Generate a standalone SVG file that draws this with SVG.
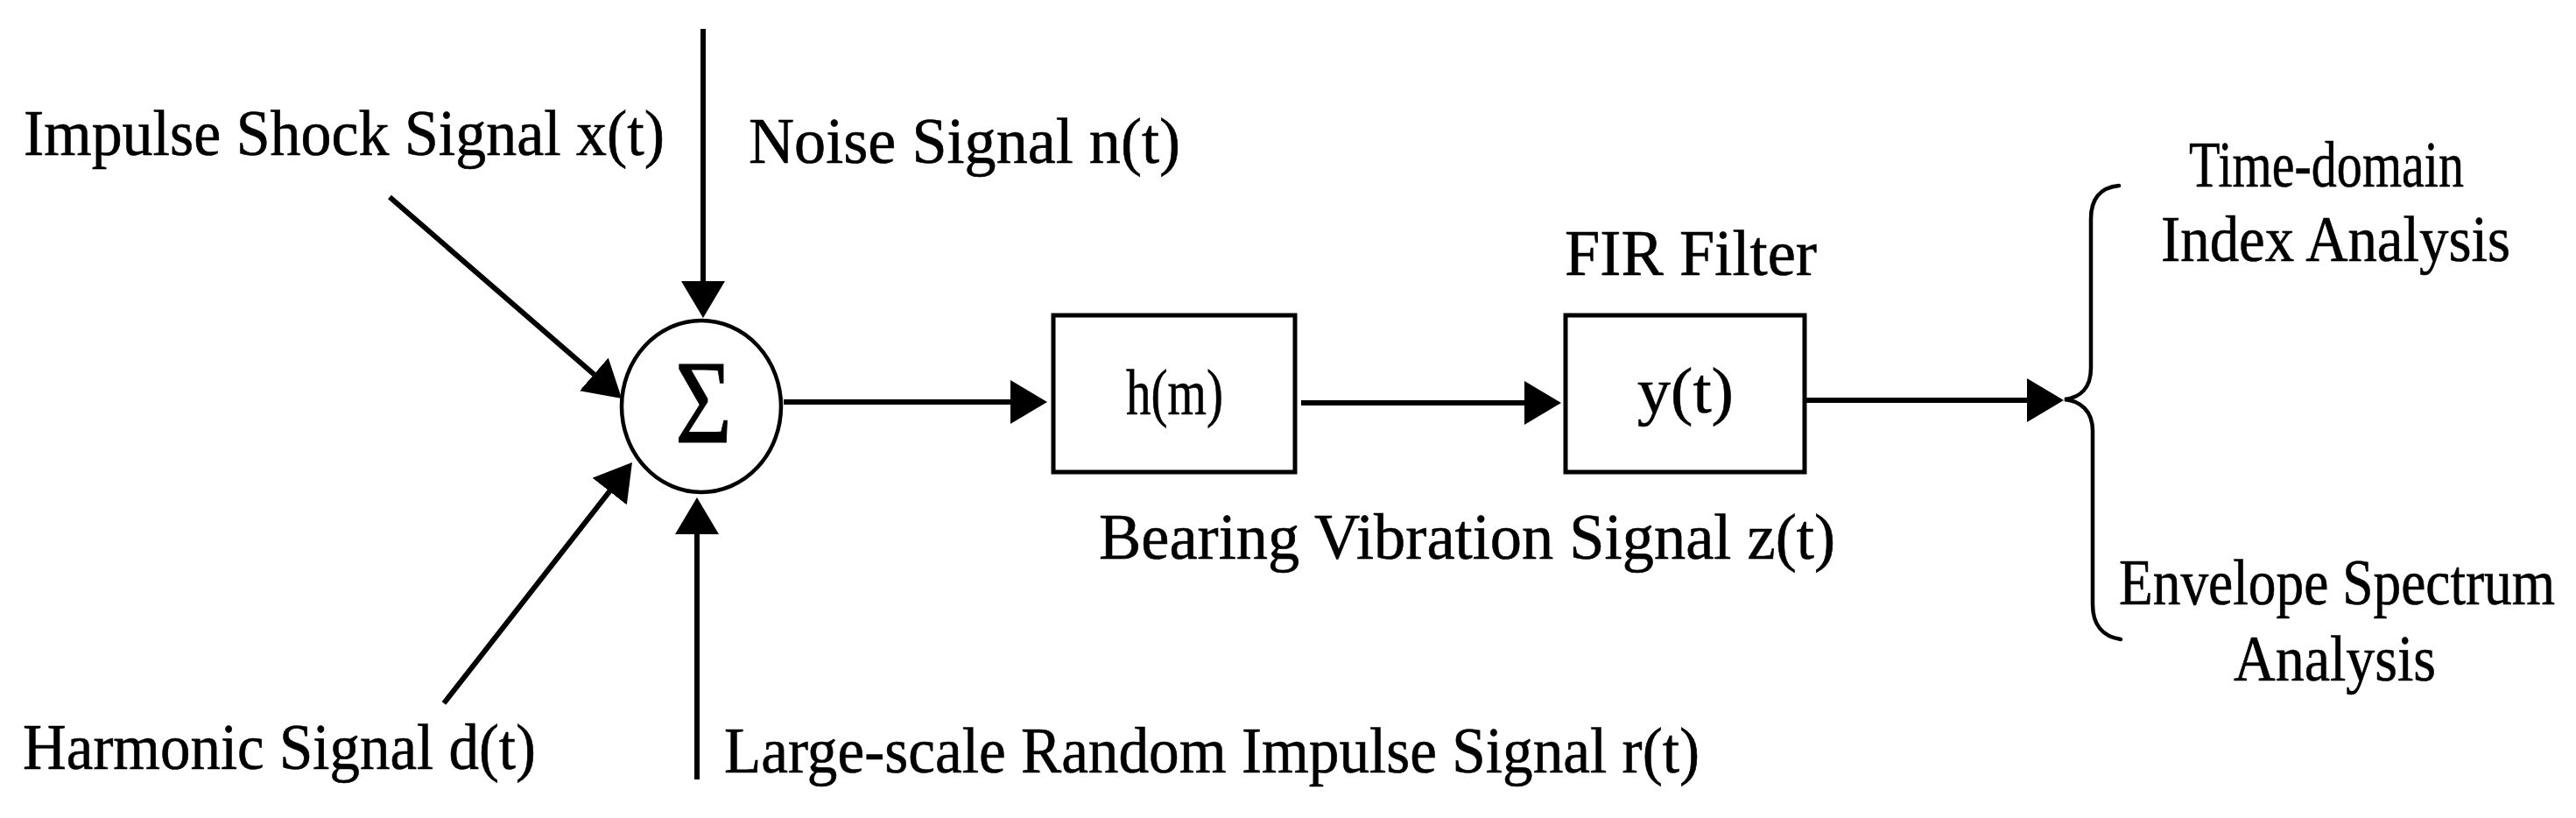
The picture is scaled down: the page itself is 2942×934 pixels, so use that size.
<svg xmlns="http://www.w3.org/2000/svg" width="2942" height="934" viewBox="0 0 2942 934">
  <style>
    .lbl { font-family: "Liberation Serif", "DejaVu Serif", serif; font-size: 74px; fill: #000; stroke: #000; stroke-width: 0.6; }
    .conn { stroke: #000; stroke-width: 6; fill: none; }
    .box { fill: #fff; stroke: #000; stroke-width: 5; }
    .brace { fill: none; stroke: #000; stroke-width: 4.5; stroke-linecap: round; }
  </style>
  <defs>
    <marker id="arrow" viewBox="0 0 42 50" refX="12" refY="25" markerWidth="42" markerHeight="50" markerUnits="userSpaceOnUse" orient="auto">
      <path d="M0,0 L42,25 L0,50 Z" fill="#000"/>
    </marker>
  </defs>
  <rect x="0" y="0" width="2942" height="934" fill="#fff"/>

  <g id="connectors">
    <line class="conn" x1="803" y1="33" x2="803" y2="333" marker-end="url(#arrow)"/>
    <line class="conn" x1="445" y1="225" x2="687.4" y2="435.3" marker-end="url(#arrow)"/>
    <line class="conn" x1="507" y1="803" x2="703.5" y2="551.6" marker-end="url(#arrow)"/>
    <line class="conn" x1="796" y1="890" x2="796" y2="598" marker-end="url(#arrow)"/>
    <line class="conn" x1="895" y1="459" x2="1166" y2="459" marker-end="url(#arrow)"/>
    <line class="conn" x1="1486" y1="460" x2="1753" y2="460" marker-end="url(#arrow)"/>
    <line class="conn" x1="2061" y1="457" x2="2327" y2="457" marker-end="url(#arrow)"/>
  </g>

  <g id="sum">
    <ellipse cx="801" cy="464" rx="91" ry="98" fill="#fff" stroke="#000" stroke-width="4.5"/>
    <text x="771" y="505" font-family="Liberation Serif, DejaVu Serif, serif" font-size="136" stroke="#000" stroke-width="1" textLength="65" lengthAdjust="spacingAndGlyphs">Σ</text>
  </g>

  <g id="input-impulse">
    <text class="lbl" x="27" y="177" textLength="732" lengthAdjust="spacingAndGlyphs">Impulse Shock Signal x(t)</text>
  </g>
  <g id="input-noise">
    <text class="lbl" x="855" y="186" textLength="493" lengthAdjust="spacingAndGlyphs">Noise Signal n(t)</text>
  </g>
  <g id="input-harmonic">
    <text class="lbl" x="26" y="878" textLength="586" lengthAdjust="spacingAndGlyphs">Harmonic Signal d(t)</text>
  </g>
  <g id="input-random">
    <text class="lbl" x="827" y="882" textLength="1114" lengthAdjust="spacingAndGlyphs">Large-scale Random Impulse Signal r(t)</text>
  </g>

  <g id="node-h">
    <rect class="box" x="1203" y="360" width="276" height="179"/>
    <text class="lbl" x="1286" y="473" textLength="111" lengthAdjust="spacingAndGlyphs">h(m)</text>
  </g>
  <g id="label-bearing">
    <text class="lbl" x="1255" y="638" textLength="841" lengthAdjust="spacingAndGlyphs">Bearing Vibration Signal z(t)</text>
  </g>

  <g id="node-y">
    <rect class="box" x="1788" y="360" width="273" height="179"/>
    <text class="lbl" x="1870" y="471" textLength="110" lengthAdjust="spacingAndGlyphs">y(t)</text>
    <text class="lbl" x="1787" y="314" textLength="288" lengthAdjust="spacingAndGlyphs">FIR Filter</text>
  </g>

  <g id="outputs">
    <path class="brace" d="M2420,212 C2398,214 2388,228 2388,250 L2388,420 C2388,443 2376,454 2358,456 C2376,458 2390,469 2390,492 L2390,690 C2390,714 2402,727 2422,730"/>
    <text class="lbl" x="2500" y="213" textLength="314" lengthAdjust="spacingAndGlyphs">Time-domain</text>
    <text class="lbl" x="2468" y="298" textLength="399" lengthAdjust="spacingAndGlyphs">Index Analysis</text>
    <text class="lbl" transform="translate(2420,690) scale(0.85,1)" x="0" y="0" textLength="586" lengthAdjust="spacingAndGlyphs">Envelope Spectrum</text>
    <text class="lbl" x="2551" y="777" textLength="231" lengthAdjust="spacingAndGlyphs">Analysis</text>
  </g>
</svg>
